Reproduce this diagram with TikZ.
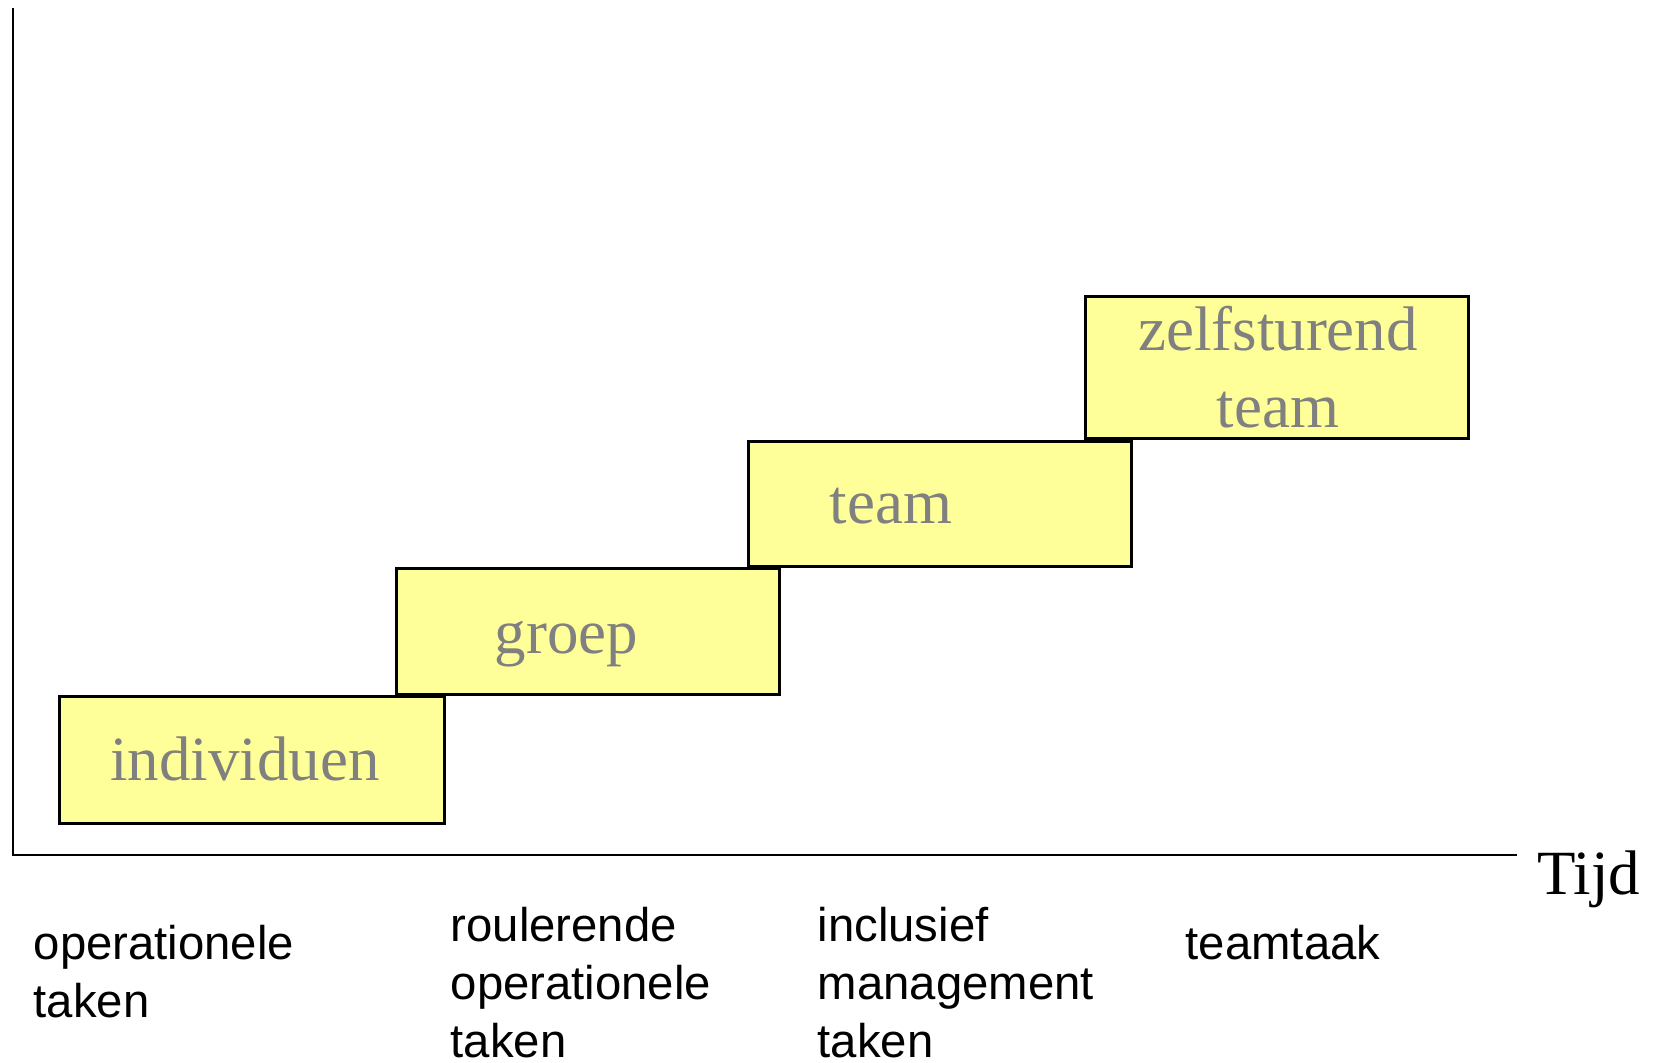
\documentclass[tikz,border=0pt]{standalone}
\usepackage{fontspec}
\setmainfont{Liberation Serif}
\setsansfont{Liberation Sans}
\usetikzlibrary{positioning}
\definecolor{stapgeel}{RGB}{255,255,153}
\definecolor{stapgrijs}{RGB}{128,128,128}
\tikzset{
	stap/.style={draw=black, line width=0.85pt, fill=stapgeel, inner sep=0pt},
	staptekst/.style={text=stapgrijs, font=\fontsize{17.9}{21.9}\selectfont, align=center, inner sep=0pt},
	taaktekst/.style={font=\sffamily\fontsize{13.45}{16.36}\selectfont, align=left, anchor=base west, inner sep=0pt},
	as/.style={line width=0.6pt}
}

\begin{document}
\begin{tikzpicture}[x=0.01cm, y=-0.01cm]
			%%%%% START %%%%%
			\useasboundingbox (0, 0) rectangle (1663, 1062);
			
			% assen
			\coordinate (ytop) at (13, 8);
			\coordinate (oorsprong) at (13, 855);
			\coordinate (xeind) at (1517, 855);
			\draw[as] (ytop) -- (oorsprong) -- (xeind);
			\node[font=\fontsize{17.9}{21.9}\selectfont, anchor=base west, inner sep=0pt] (tijd) at (1537, 894) {Tijd};
			
			% trappen
			\node[stap, minimum width=3.84cm, minimum height=1.26cm] (individuen) at (252, 760) {};
			\node[stap, minimum width=3.82cm, minimum height=1.25cm] (groep) at (588, 631.5) {};
			\node[stap, minimum width=3.82cm, minimum height=1.24cm] (team) at (940, 504) {};
			\node[stap, minimum width=3.82cm, minimum height=1.41cm] (zelfsturend) at (1277, 367.5) {};
			
			% base = laatste regel
			\node[staptekst, anchor=base] (individuentekst) at (245, 780) {individuen};
			\node[staptekst, anchor=base] (groeptekst) at (566.5, 653) {groep};
			\node[staptekst, anchor=base] (teamtekst) at (891, 523) {team};
			\node[staptekst, anchor=base] (zelfsturendtekst) at (1278, 427) {zelfsturend\\team};
			
			% taken
			\node[taaktekst] (operationeel) at (33, 1017) {operationele\\taken};
			\node[taaktekst] (roulerend) at (450, 1057) {roulerende\\operationele\\taken};
			\node[taaktekst] (inclusief) at (817, 1057) {inclusief\\management\\taken};
			\node[taaktekst] (teamtaak) at (1185, 959) {teamtaak};
			
			%%%%% END %%%%%
		\end{tikzpicture}
\end{document}
